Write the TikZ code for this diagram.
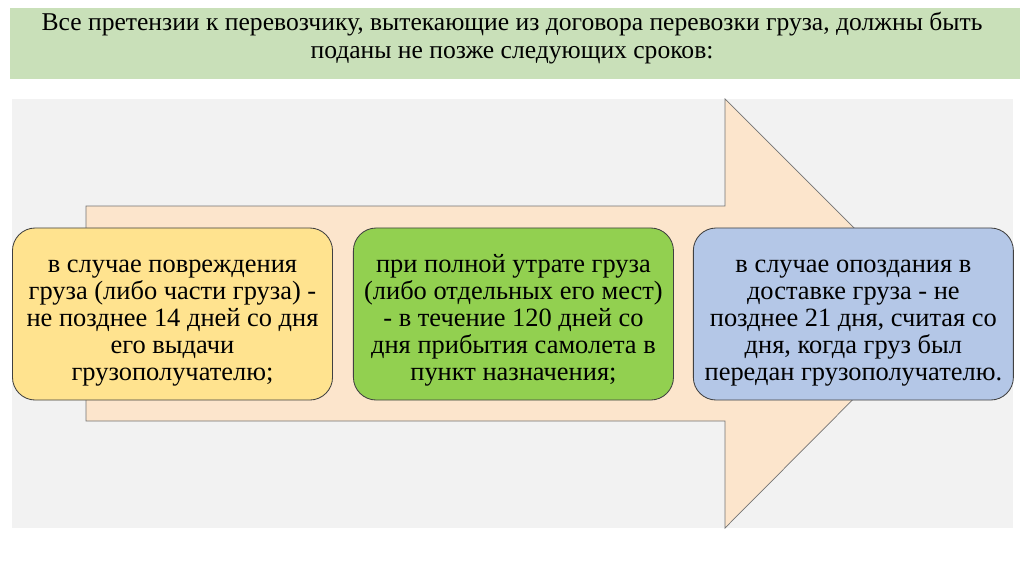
\documentclass[tikz,border=0pt]{standalone}
\usepackage{fontspec}
\setmainfont{Liberation Serif}
\usepackage{tikz}
\usetikzlibrary{positioning,calc}

\definecolor{titlegreen}{HTML}{C9E0B9}
\definecolor{panelgray}{HTML}{F2F2F2}
\definecolor{arrowpeach}{HTML}{FCE5CC}
\definecolor{boxyellow}{HTML}{FFE38F}
\definecolor{boxgreen}{HTML}{92D050}
\definecolor{boxblue}{HTML}{B4C7E7}

% taller first line, pushes the text a bit down in the box
\newcommand\termstrut{\rule{0pt}{22pt}}

\tikzset{
  term/.style={draw=black!75, line width=0.6pt, rounded corners=0.57cm,
    minimum width=8.0cm, minimum height=4.3cm,
    align=center, font=\fontsize{18.8}{19.1}\selectfont, inner sep=0pt},
}

\begin{document}
\begin{tikzpicture}[x=0.025cm,y=-0.025cm]
  \useasboundingbox (0,0) rectangle (1024,574);
  % heading
  \fill[titlegreen] (10,8) rectangle (1020,79);
  \node[align=center, font=\fontsize{18.2}{19.8}\selectfont] (title) at (512,38)
    {Все претензии к перевозчику, вытекающие из договора перевозки груза, должны быть\\
     поданы не позже следующих сроков:};
  % panel and arrow
  \fill[panelgray] (12,99) rectangle (1013,528);
  \draw[draw=black!55, line width=0.5pt, fill=arrowpeach]
    (86,206) -- (725,206) -- (725,99) -- (939,313) -- (725,528) -- (725,421) -- (86,421) -- cycle;
  % terms
  \node[term, fill=boxyellow] (damage) at (172.5,314)
    {\termstrut в случае повреждения\\груза (либо части груза) -\\не позднее 14 дней со дня\\его выдачи\\грузополучателю;};
  \node[term, fill=boxgreen, right=0.5cm of damage] (loss)
    {\termstrut при полной утрате груза\\(либо отдельных его мест)\\- в течение 120 дней со\\дня прибытия самолета в\\пункт назначения;};
  \node[term, fill=boxblue, right=0.475cm of loss] (delay)
    {\termstrut в случае опоздания в\\доставке груза - не\\позднее 21 дня, считая со\\дня, когда груз был\\передан грузополучателю.};
\end{tikzpicture}
\end{document}
